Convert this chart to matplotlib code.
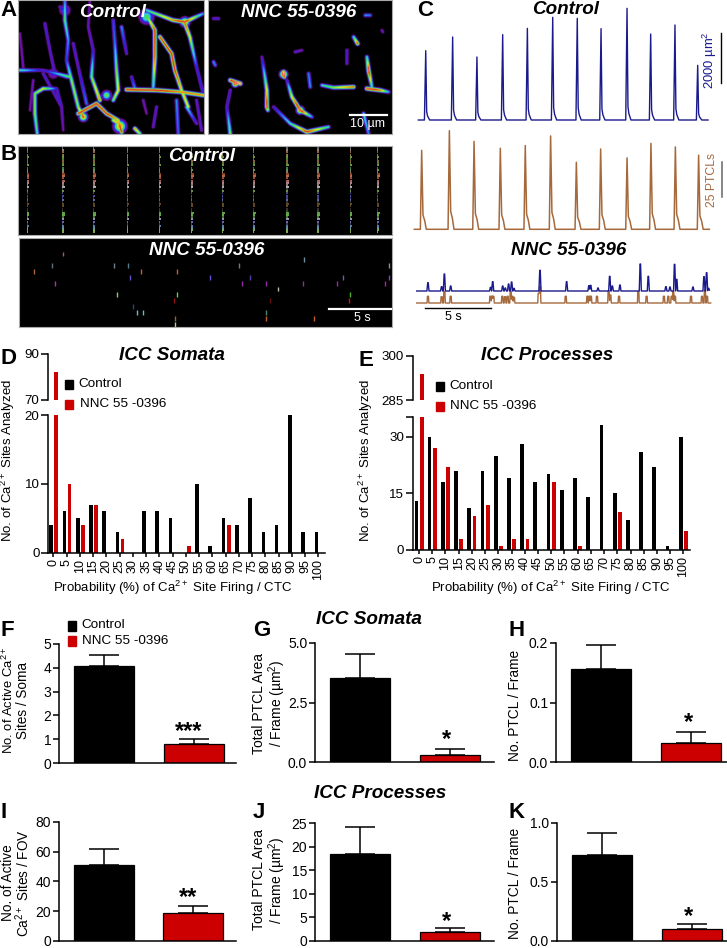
import numpy as np
import matplotlib
matplotlib.use('Agg')
import matplotlib.pyplot as plt
from matplotlib.colors import LinearSegmentedColormap
from matplotlib.patches import Rectangle

W, H = 727, 948
plt.rcParams['font.family'] = ['Liberation Sans', 'DejaVu Sans']
plt.rcParams['mathtext.default'] = 'regular'

NAVY = '#1a1a8c'
BROWN = '#a6693c'
RED = '#cc0000'

filaments_control = [
    [(195, 0, .4), (195, 60, .58), (205, 120, .42), (200, 180, .35), (215, 240, .62), (235, 320, .62), (250, 350, .85)],
    [(135, 70, .3), (150, 150, .28), (165, 220, .3), (200, 230, .45)],
    [(270, 0, .22), (265, 80, .25), (280, 150, .3), (275, 230, .6), (300, 300, .78)],
    [(340, 60, .35), (345, 130, .4), (350, 210, .6), (355, 270, .72), (340, 300, .6)],
    [(440, 45, .55), (465, 90, .85), (465, 170, .82), (460, 260, .5)],
    [(480, 110, .82), (515, 160, .85), (525, 210, .85), (545, 270, .72), (565, 320, .7)],
    [(380, 268, .88), (470, 270, .88), (540, 275, .78), (610, 285, .78)],
    [(440, 30, .5), (520, 60, .78), (555, 65, .9), (610, 40, .4)],
    [(555, 70, .82), (570, 110, .7), (590, 200, .32), (610, 280, .32)],
    [(105, 280, .6), (130, 265, .68), (170, 265, .32), (185, 320, .28)],
    [(105, 280, .6), (105, 340, .62), (112, 400, .5)],
    [(235, 340, .88), (290, 310, .88), (320, 340, .88), (355, 360, .72), (365, 395, .9)],
    [(405, 385, .78), (420, 400, .6)],
    [(530, 300, .42), (535, 400, .38)],
    [(60, 210, .52), (130, 210, .28), (210, 230, .6)],
    [(60, 100, .22), (70, 200, .24)],
    [(460, 380, .28), (470, 320, .28)],
    [(590, 300, .28), (605, 390, .28)],
    [(365, 80, .42), (380, 160, .28)],
    [(560, 320, .5), (590, 370, .28)],
    [(180, 20, .3), (195, 40, .4)],
    [(100, 240, .24), (90, 330, .22)],
    [(395, 230, .3), (405, 265, .42)],
    [(340, 360, .72), (365, 375, .75)],
    [(130, 220, .3), (185, 320, .28), (190, 390, .22)],
    [(220, 130, .3), (235, 200, .28), (260, 310, .4)],
    [(430, 300, .25), (440, 340, .22)],
]
blobs_control = [(440, 50, .55, 15), (195, 30, .35, 13), (360, 378, .78, 13), (160, 220, .3, 13), (555, 65, .75, 10),
                 (320, 285, .6, 10), (250, 350, .8, 9)]
filaments_nnc = [
    [(690, 240, .85), (720, 250, 1.0)],
    [(690, 270, .3), (680, 320, .3), (690, 400, .6)],
    [(785, 170, .25), (800, 270, .7), (800, 320, .92), (803, 330, .6)],
    [(850, 215, 1.0), (852, 230, .9)],
    [(860, 240, .3), (875, 290, .7), (900, 330, .95), (935, 350, .4)],
    [(820, 320, .3), (870, 370, .5), (920, 395, .88), (985, 380, .5)],
    [(965, 255, .5), (1000, 262, .62), (1060, 260, .82)],
    [(1100, 170, .5), (1105, 210, .92), (1115, 260, .5)],
    [(1100, 265, .92), (1140, 270, .8), (1165, 275, .42)],
    [(1060, 110, .5), (1072, 130, .85)],
    [(640, 185, .42), (645, 195, .4)],
    [(925, 220, .4), (930, 260, .42)],
    [(885, 155, .3), (905, 150, .25)],
    [(1040, 150, .3), (1040, 190, .28)],
    [(1090, 340, .5), (1105, 400, .4)],
    [(640, 55, .3), (655, 55, .3)],
    [(1095, 45, .42), (1110, 45, .4)],
    [(1145, 90, .25), (1148, 95, .25)],
]
blobs_nnc = [(850, 222, .95, 8), (705, 250, .95, 7), (900, 330, .85, 8)]

# ===== Panel B: raster events =====
stripe_times = [0.75, 3.6, 6.1, 8.8, 11.4, 14.0, 16.5, 19.0, 21.7, 24.2, 26.8, 29.0]
stripe_rows = [1, 2, 3, 4, 5, 6, 7, 8, 9, 10, 11, 12, 13, 14, 15, 16, 17, 18, 19, 20, 21, 22, 23, 24, 25, 26, 27,
               28, 29, 30, 31, 32, 33, 34, 35, 36, 37, 38, 39, 40]
stripe_colors = ['#888888', '#aaaaaa', '#c08050', '#b0a060', '#90c050', '#70a040', '#c08050', '#70a040', '#90c050', '#50a080',
                 '#90c050', '#a0a0a0', '#d05030', '#e09050', '#d06050', '#e08060', '#e0a0c0', '#c0a0a0', '#e0e0e0', '#505050',
                 '#80c050', '#606090', '#6060d0', '#5050a0', '#8080d0', '#404040', '#806030', '#806030', '#404040', '#505050',
                 '#80d050', '#80e060', '#60a040', '#c0c0f0', '#8080f0', '#505050', '#70a0e0', '#80c0e0', '#a0e070', '#a0e070']
stripe_widths = [.02, .04, .04, .04, .08, .04, .06, .06, .1, .04, .05, .04, .14, .14, .08, .12, .1, .06, .12, .02,
                 .05, .03, .04, .03, .04, .02, .1, .06, .02, .03, .14, .12, .06, .1, .06, .02, .07, .05, .06, .04]

raster_times = [3.65, 2.71, 1.29, 7.74, 8.9, 9.9, 12.8, 9.0, 15.5, 17.8, 18.7, 23.1, 26.2, 29.9, 29.9,
                3.0, 18.1, 20.0, 23.0, 25.7, 29.6, 21.0, 7.95, 12.85, 26.8, 12.6, 20.3, 26.7,
                9.3, 9.6, 10.1, 20.0, 20.0, 23.9, 12.7, 12.7]
raster_rows = [0, 2, 3, 2, 2, 3, 3, 4, 4, 2, 4, 1, 4, 2, 4,
               5, 5, 5, 5, 5, 5, 6, 7, 7, 7, 8, 8, 8,
               9, 10, 10, 10, 11, 11, 11, 12]
raster_colors = ['#a050a0', '#607080', '#b06040', '#708090', '#508090', '#c06040', '#c06040', '#6050c0', '#6050d0',
                 '#608090', '#5040a0', '#7090a0', '#7060a0', '#909090', '#8040c0',
                 '#b030b0', '#9030a0', '#9030a0', '#9030a0', '#9030a0', '#b020b0', '#c0c0b0', '#80d060', '#60d050',
                 '#50b030', '#901010', '#601010', '#d01010',
                 '#304080', '#60c0c0', '#60c0c0', '#508070', '#c06030', '#c06030', '#a06030', '#a0e070']

# ===== Panel C: spike traces (times in s, heights in um2 or PTCLs) =====
ctrl_area_t = [0.69, 2.74, 4.59, 6.55, 8.43, 10.36, 12.23, 14.04, 16.02, 17.82, 19.67, 21.40]
ctrl_area_h = [2810, 3365, 2554, 3460, 3716, 4162, 4122, 3703, 4527, 3486, 3851, 2216]
ctrl_ptcl_t = [0.38, 2.49, 4.37, 6.37, 8.27, 10.2, 12.16, 14.01, 16.02, 17.84, 19.7, 21.47]
ctrl_ptcl_h = [57.5, 71.8, 64, 59, 61, 68, 48.8, 58.5, 52, 62.6, 60, 54]
nnc_area_t = [0.86, 1.9, 2.11, 2.59, 5.63, 5.79, 6.55, 6.75, 7.0, 7.23, 7.41, 9.39, 11.42, 13.12, 13.25,
              13.81, 14.7, 14.9, 15.48, 17.03, 17.64, 18.98, 19.29, 19.64, 19.8, 21.04, 21.88, 22.08, 22.23]
nnc_area_h = [338, 176, 689, 203, 149, 378, 203, 122, 284, 365, 108, 838, 378, 216, 230,
              122, 595, 203, 243, 1095, 595, 176, 162, 1081, 473, 162, 581, 743, 108]
nnc_ptcl_t = [0.86, 1.9, 2.11, 2.59, 5.61, 5.74, 5.84, 6.52, 6.73, 6.93, 7.16, 7.28, 7.41, 9.29, 9.39, 11.35, 13.0,
              13.15, 13.27, 13.73, 14.62, 14.75, 15.41, 16.88, 17.51, 18.83, 19.16, 19.42, 19.54, 19.67, 20.89, 21.73, 21.95, 22.11]
nnc_ptcl_h = [4.9, 4.6, 8.3, 4.9, 4.9, 4.9, 4.9, 4.9, 4.6, 4.9, 8.3, 4.9, 4.1, 7, 11.9, 4.9, 4.9,
              4.9, 4.9, 4.9, 9, 5.8, 4.9, 8.3, 4.9, 4.9, 4.9, 4.9, 8.3, 4.9, 4.9, 4.9, 9, 4.9]

# ===== Panels D, E: histograms =====
prob_labels = [str(p) for p in range(0, 101, 5)]
somata_control = [4, 6, 5, 7, 6, 3, 0, 6, 6, 5, 0, 10, 1, 5, 4, 8, 3, 4, 20, 3, 3]
somata_nnc = [82, 10, 4, 7, 0, 2, 0, 0, 0, 0, 1, 0, 0, 4, 0, 0, 0, 0, 0, 0, 0]
processes_control = [13, 30, 18, 21, 11, 21, 25, 19, 28, 18, 20, 16, 19, 14, 33, 15, 8, 26, 22, 1, 30]
processes_nnc = [294, 27, 22, 3, 9, 12, 1, 3, 3, 0, 18, 0, 1, 0, 0, 10, 0, 0, 0, 0, 5]

# ===== Panels F-K: summary bars (control, NNC) =====
f_mean, f_top = [4.08, 0.80], [4.53, 1.03]
g_mean, g_top = [3.53, 0.32], [4.55, 0.57]
h_mean, h_top = [0.156, 0.033], [0.196, 0.050]
i_mean, i_top = [51, 18.8], [62, 23.7]
j_mean, j_top = [18.4, 2.0], [24.3, 2.8]
k_mean, k_top = [0.723, 0.10], [0.916, 0.145]


def axes_px(x0, y0, x1, y1):
    return fig.add_axes([x0 / W, 1 - y1 / H, (x1 - x0) / W, (y1 - y0) / H])


def render_filaments(filaments, blobs, x0, y0, x1, y1, sigma=4.5):
    # brightness falls off around each traced segment, keeps the max
    xs, ys = np.meshgrid(np.arange(x0, x1, 1.5), np.arange(y0, y1, 1.5))
    img = np.zeros(xs.shape)
    for fil in filaments:
        for (ax_, ay, al), (bx, by, bl) in zip(fil[:-1], fil[1:]):
            dx, dy = bx - ax_, by - ay
            s = np.clip(((xs - ax_) * dx + (ys - ay) * dy) / (dx * dx + dy * dy), 0, 1)
            d2 = (xs - ax_ - s * dx) ** 2 + (ys - ay - s * dy) ** 2
            img = np.maximum(img, (al + s * (bl - al)) * np.exp(-d2 / (2 * sigma ** 2)))
    for bx, by, bl, bs in blobs:
        d2 = (xs - bx) ** 2 + (ys - by) ** 2
        img = np.maximum(img, bl * np.exp(-d2 / (2 * bs ** 2)))
    return img


def spike_trace(times, heights, start, stop, shape_t, shape_y):
    t = np.arange(start, stop, 0.01)
    y = np.zeros_like(t)
    for tp, hp in zip(times, heights):
        y = np.maximum(y, hp * np.interp(t - tp, shape_t, shape_y, left=0, right=0))
    return t, y


def trace_axes(y_top, y_base, per_px):
    ax = axes_px(413, y_top, 712, y_base + 2)
    ax.set_xlim(-0.28, 22.49)
    ax.set_ylim(-2 * per_px, (y_base - y_top) * per_px)
    ax.axis('off')
    return ax


def style_bottom(ax):
    for side in ['top', 'right']:
        ax.spines[side].set_visible(False)
    for side in ['left', 'bottom']:
        ax.spines[side].set_linewidth(1.1)
    ax.tick_params(width=1.1)


def hist_panel(rect_low, rect_up, x_lim, control, nnc, off, low_lim, up_lim, low_ticks, low_labels, up_ticks):
    x = np.arange(len(control))
    low = axes_px(*rect_low)
    low.bar(x + off[0], control, 0.28, color='black')
    low.bar(x + off[1], nnc, 0.28, color=RED)
    low.set_xlim(*x_lim)
    low.set_ylim(*low_lim)
    low.set_yticks(low_ticks, low_labels, fontsize=9.6)
    low.set_xticks(x, prob_labels, rotation=90, fontsize=9)
    low.tick_params(axis='x', length=3, pad=1.5)
    low.tick_params(axis='y', length=4.8, pad=1.5)
    style_bottom(low)
    low.tick_params(width=1.1)

    up = axes_px(*rect_up)
    up.bar(x + off[1], nnc, 0.28, color=RED)
    up.set_xlim(*x_lim)
    up.set_ylim(*up_lim)
    up.set_yticks(up_ticks, [str(v) for v in up_ticks], fontsize=9.6)
    up.tick_params(axis='y', length=4.8, pad=1.5, width=1.1)
    up.set_xticks([])
    style_bottom(up)
    up.spines['bottom'].set_visible(False)


def bar_panel(x_spine, x_end, y_base, y_top, means, tops, y_lim, ticks, labels):
    ax = axes_px(x_spine, y_top, x_end, y_base)
    ax.bar([0, 1], means, 0.67, color=['black', RED], edgecolor='black', linewidth=0.9)
    for xp, m, t in zip([0, 1], means, tops):
        ax.errorbar(xp, m, yerr=[[0], [t - m]], color='black', capsize=10.8, elinewidth=1.1, capthick=1.1)
    ax.set_xlim(-0.5, (x_end - x_spine - 45) / 89.5)
    ax.set_ylim(*y_lim)
    ax.set_xticks([])
    ax.set_yticks(ticks, labels, fontsize=10)
    ax.tick_params(axis='y', length=4.3, pad=1.5)
    style_bottom(ax)
    return ax


fig = plt.figure(figsize=(W / 100, H / 100), dpi=100)
fig.patch.set_facecolor('white')

# ===== Panel A =====
cmap = LinearSegmentedColormap.from_list('ca', [(0, 'black'), (.10, 'black'), (.2, '#7a10a0'), (.32, '#2020e0'),
                                                (.45, '#30d0f0'), (.56, '#40e040'), (.68, '#f0f020'),
                                                (.84, '#e02010'), (1, 'white')])
for fil, blobs, rect, ext in [(filaments_control, blobs_control, (18, 0, 204, 134), (55, 0, 613, 402)),
                              (filaments_nnc, blobs_nnc, (208, 0, 392, 134), (624, 0, 1176, 402))]:
    ax = axes_px(*rect)
    img = render_filaments(fil, blobs, ext[0], ext[1], ext[2], ext[3])
    ax.imshow(img, cmap=cmap, vmin=0, vmax=1, aspect='auto', interpolation='bilinear',
              extent=[ext[0], ext[2], ext[3], ext[1]])
    ax.set_xticks([])
    ax.set_yticks([])
    for s in ax.spines.values():
        s.set_color('#aaaaaa')

# ===== Panel B =====
ax = axes_px(18, 146, 392, 234.5)
ax.set_facecolor('black')
for t in stripe_times:
    for row, col, wid in zip(stripe_rows, stripe_colors, stripe_widths):
        ax.hlines(row, t - 0.05, t + wid + 0.03, color=col, lw=1.1)
ax.set_xlim(0, 30.16)
ax.set_ylim(41, 0)
ax.set_xticks([])
ax.set_yticks([])
for s in ax.spines.values():
    s.set_color('#aaaaaa')

ax = axes_px(19, 238, 392, 327)
ax.set_facecolor('black')
ax.vlines(raster_times, np.array(raster_rows) - 0.42, np.array(raster_rows) + 0.42, colors=raster_colors, lw=1.0)
ax.set_xlim(0.08, 30.16)
ax.set_ylim(12.5, -2.74)
ax.set_xticks([])
ax.set_yticks([])
for s in ax.spines.values():
    s.set_color('#aaaaaa')

# ===== Panel C =====
ax = trace_axes(0, 120, 2000 / 49.33)
t, y = spike_trace(ctrl_area_t, ctrl_area_h, 0.13, 22.2, [-.1, 0, .07, .13, .3], [0, 1, .12, .06, 0])
ax.plot(t, y, color=NAVY, lw=1.0)
ax = trace_axes(125, 229.3, 25 / 34.33)
t, y = spike_trace(ctrl_ptcl_t, ctrl_ptcl_h, -0.18, 22.3, [-.1, 0, .1, .22, .35], [0, 1, .18, .12, 0])
ax.plot(t, y, color=BROWN, lw=1.1)
ax = trace_axes(283, 303, 25 / 34.33)
t, y = spike_trace(nnc_ptcl_t, nnc_ptcl_h, 0, 22.4, [-.07, -.04, .04, .07], [0, 1, 1, 0])
ax.plot(t, y, color=BROWN, lw=1.0)
ax = trace_axes(260, 291, 2000 / 49.33)
t, y = spike_trace(nnc_area_t, nnc_area_h, 0, 22.3, [-.08, -.02, .02, .08], [0, 1, 1, 0])
ax.plot(t, y, color=NAVY, lw=1.0)

# ===== Panels D, E =====
hist_panel((48.3, 415, 325, 552.7), (48.3, 354, 325, 400), (-0.377, 20.5), somata_control, somata_nnc,
           (-0.15, 0.23), (0, 20), (70, 90), [0, 10, 20], ['0', '10', '20'], [70, 90])
hist_panel((412.7, 416.7, 690, 550), (412.7, 355.7, 690, 400.3), (-0.477, 20.5), processes_control, processes_nnc,
           (-0.2, 0.2), (0, 35.3), (285, 300), [0, 15, 30, 35.3], ['0', '15', '30', ''], [285, 300])

# ===== Panels F-K =====
bar_panel(59.3, 236.4, 763.3, 643.7, f_mean, f_top, (0, 5), [0, 1, 2, 3, 4, 5], ['0', '1', '2', '3', '4', '5'])
bar_panel(315.3, 493.7, 762.3, 643, g_mean, g_top, (0, 5), [0, 2.5, 5], ['0.0', '2.5', '5.0'])
bar_panel(556.3, 727, 762.3, 643, h_mean, h_top, (0, 0.2), [0, 0.1, 0.2], ['0.0', '0.1', '0.2'])
bar_panel(59, 236.4, 941, 821.7, i_mean, i_top, (0, 80), [0, 20, 40, 60, 80], ['0', '20', '40', '60', '80'])
bar_panel(315.3, 493.7, 941, 823.3, j_mean, j_top, (0, 25), [0, 5, 10, 15, 20, 25], ['0', '5', '10', '15', '20', '25'])
bar_panel(557.3, 727, 941, 822.7, k_mean, k_top, (0, 1), [0, 0.5, 1], ['0.0', '0.5', '1.0'])

# ===== Text and scale bars, placed in pixels =====
ov = fig.add_axes([0, 0, 1, 1], zorder=10)
ov.set_xlim(0, W)
ov.set_ylim(H, 0)
ov.axis('off')
ov.patch.set_alpha(0)

for letter, x, y in [('A', 0, 10), ('B', 0, 154), ('C', 417, 10), ('D', 1, 359), ('E', 359, 360), ('F', 0, 630),
                     ('G', 253, 630), ('H', 508, 630), ('I', 0, 813), ('J', 253, 812), ('K', 509, 812)]:
    ov.text(x, y, letter, fontsize=16, fontweight='bold', va='center', ha='left')

for txt, x, y, col in [('Control', 113, 12, 'white'), ('NNC 55-0396', 299, 12, 'white'), ('Control', 202, 156, 'white'),
                       ('NNC 55-0396', 207, 250, 'white'), ('Control', 566, 9, 'black'), ('NNC 55-0396', 569, 250, 'black'),
                       ('ICC Somata', 172, 356, 'black'), ('ICC Processes', 547, 356, 'black'),
                       ('ICC Somata', 368.6, 620, 'black'), ('ICC Processes', 380, 793, 'black')]:
    ov.text(x, y, txt, fontsize=13.6, fontweight='bold', fontstyle='italic', color=col, ha='center', va='center')

# scale bars
ov.plot([350, 387], [114.5, 114.5], color='white', lw=1.6)
ov.text(368, 124, '10 µm', color='white', fontsize=9, ha='center', va='center')
ov.plot([329, 391], [309, 309], color='white', lw=1.6)
ov.text(362, 318, '5 s', color='white', fontsize=9, ha='center', va='center')
ov.plot([721, 721], [33, 83], color='black', lw=1.0)
ov.text(710, 60, '2000 µm$^{2}$', color=NAVY, fontsize=9.4, rotation=90, ha='center', va='center')
ov.plot([721.5, 721.5], [162, 197], color='#666666', lw=1.1)
ov.text(712, 180, '25 PTCLs', color=BROWN, fontsize=8.8, rotation=90, ha='center', va='center')
ov.plot([425, 491], [308, 308], color='black', lw=1.0)
ov.text(453, 317, '5 s', color='black', fontsize=9, ha='center', va='center')

# legends
for x_sq, x_txt1, x_txt2, y1, y2, sw, sh in [(65, 78, 80, 384, 404, 8, 9), (436, 449, 450, 386, 406, 8, 9),
                                             (68, 81.5, 82.5, 625.5, 640.5, 8, 10)]:
    ov.add_patch(Rectangle((x_sq, y1 - sh / 2), sw, sh, color='black'))
    ov.add_patch(Rectangle((x_sq, y2 - sh / 2), sw, sh, color=RED))
    ov.text(x_txt1, y1, 'Control', fontsize=9.7, va='center')
    ov.text(x_txt2, y2, 'NNC 55 -0396', fontsize=9.7, va='center')

# axis titles
ov.text(8, 460, 'No. of Ca$^{2+}$ Sites Analyzed', fontsize=9.5, rotation=90, ha='center', va='center')
ov.text(173, 588, 'Probability (%) of Ca$^{2+}$ Site Firing / CTC', fontsize=9.5, ha='center', va='center')
ov.text(366, 460, 'No. of Ca$^{2+}$ Sites Analyzed', fontsize=9.5, rotation=90, ha='center', va='center')
ov.text(551, 588, 'Probability (%) of Ca$^{2+}$ Site Firing / CTC', fontsize=9.5, ha='center', va='center')

for txt, x, y, fs in [('No. of Active Ca$^{2+}$', 8, 700, 9.4), ('Sites / Soma', 23, 700, 9.8), ('Total PTCL Area', 259, 703, 10),
                      ('/ Frame (µm$^{2}$)', 277, 703, 10), ('No. PTCL / Frame', 515, 705, 9.9), ('No. of Active', 8, 883, 9.8),
                      ('Ca$^{2+}$ Sites / FOV', 23, 883, 9.8), ('Total PTCL Area', 259, 880, 10), ('/ Frame (µm$^{2}$)', 277, 880, 10),
                      ('No. PTCL / Frame', 515, 883, 9.9)]:
    ov.text(x, y, txt, fontsize=fs, rotation=90, ha='center', va='center')

for txt, x, y in [('***', 189, 732), ('*', 446.5, 740), ('*', 688, 723), ('**', 188, 898), ('*', 446, 922), ('*', 689, 917)]:
    ov.text(x, y, txt, fontsize=17, fontweight='bold', ha='center', va='center')

fig.savefig('out.png', dpi=100)
plt.close()
